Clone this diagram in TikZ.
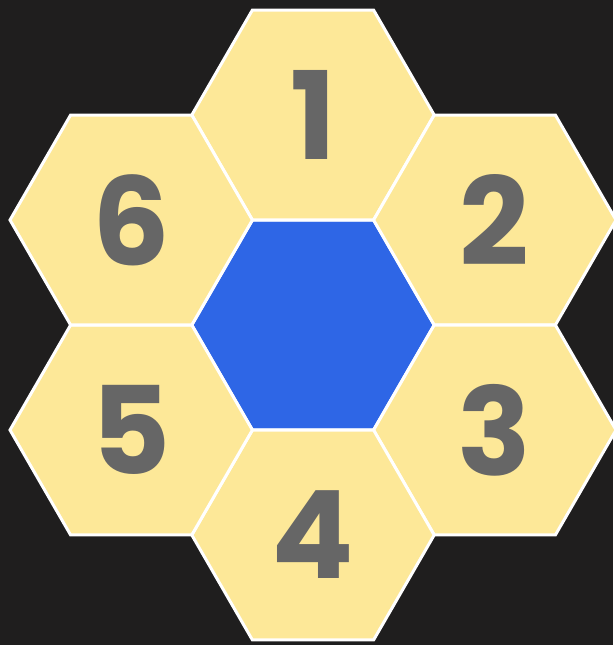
\documentclass[tikz,border=0pt]{standalone}
\usepackage{fontspec}
\newfontfamily\digitfont{Poppins}
\usetikzlibrary{shapes.geometric}
\definecolor{bgdark}{HTML}{1F1E1E}
\definecolor{honey}{HTML}{FDE898}
\definecolor{coreblue}{HTML}{2E66E6}
\definecolor{digitgray}{HTML}{666666}
\tikzset{
  hexcell/.style={regular polygon, regular polygon sides=6, minimum size=242.4pt,
    inner sep=0pt, outer sep=0pt, draw=white, line width=3pt, fill=honey,
    text=digitgray, font=\digitfont\bfseries\fontsize{122}{122}\selectfont},
  corecell/.style={hexcell, fill=coreblue}
}
\begin{document}
\begin{tikzpicture}[x=1pt,y=-1pt]
\fill[bgdark] (0,0) rectangle (613,645);
\useasboundingbox (0,0) rectangle (613,645);
\node[corecell] (c) at (313,325) {};
\node[hexcell] (h1) at (313,115) {1};
\node[hexcell] (h2) at (494.8,220) {2};
\node[hexcell] (h3) at (494.8,430) {3};
\node[hexcell] (h4) at (313,535) {4};
\node[hexcell] (h5) at (131.2,430) {5};
\node[hexcell] (h6) at (131.2,220) {6};
\end{tikzpicture}
\end{document}
